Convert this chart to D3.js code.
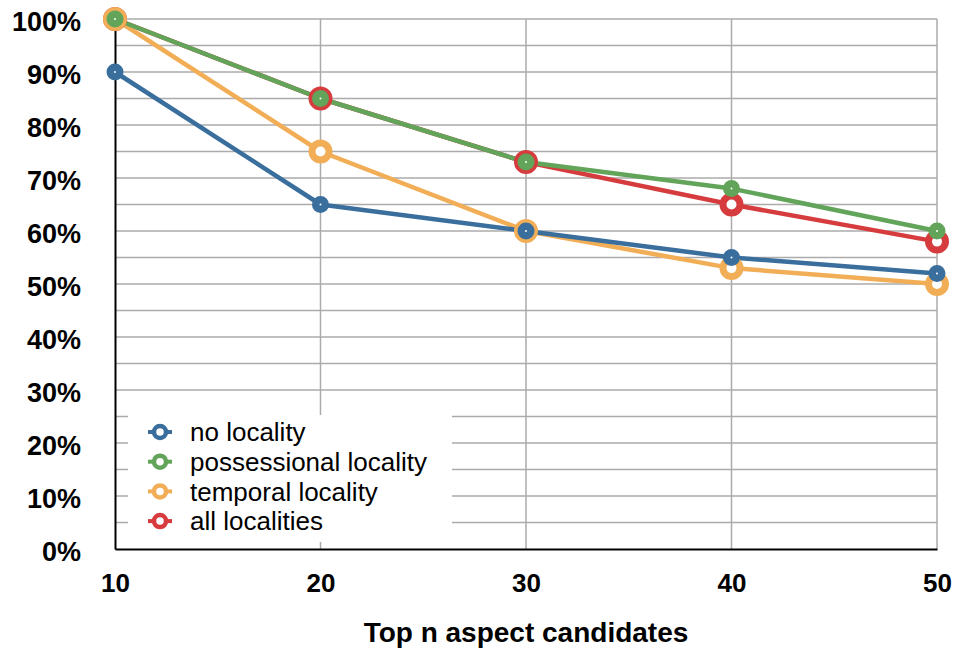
<!DOCTYPE html>
<html>
<head>
<meta charset="utf-8">
<script src="https://cdn.jsdelivr.net/npm/d3@7/dist/d3.min.js"></script>
<style>
  body { margin: 0; background: #fff; }
  svg { display: block; font-family: "Liberation Sans", Arial, Helvetica, sans-serif; }
</style>
</head>
<body>
<svg id="chart" width="957" height="650"></svg>
<script>
// Top-n candidates on the x axis
const topN = [10, 20, 30, 40, 50];

// Share of aspects recovered (%) per locality setting
const noLocality = [90, 65, 60, 55, 52];
const possessionalLocality = [100, 85, 73, 68, 60];
const temporalLocality = [100, 75, 60, 53, 50];
const allLocalities = [100, 85, 73, 65, 58];

const yTicks = [0, 10, 20, 30, 40, 50, 60, 70, 80, 90, 100];
const yMinorTicks = d3.range(0, 101, 5);

const xTitle = "Top n aspect candidates";

// Drawing order: rings underneath, filled markers on top
const series = [
  { name: "all localities", values: allLocalities, color: "#d63b3d", ring: true },
  { name: "temporal locality", values: temporalLocality, color: "#f2ae56", ring: true },
  { name: "no locality", values: noLocality, color: "#3a6e9d", ring: false },
  { name: "possessional locality", values: possessionalLocality, color: "#62a55a", ring: false }
];
const legendOrder = ["no locality", "possessional locality", "temporal locality", "all localities"];

const svg = d3.select("#chart");
const plotLeft = 115, plotRight = 937, plotTop = 19, plotBottom = 549;

const x = d3.scaleLinear().domain([10, 50]).range([plotLeft, plotRight]);
const y = d3.scaleLinear().domain([0, 100]).range([plotBottom, plotTop]);

// Grid
const grid = svg.append("g");
grid.selectAll("line.h").data(yMinorTicks.filter(d => d > 0)).join("line")
  .attr("x1", plotLeft).attr("x2", plotRight)
  .attr("y1", d => y(d)).attr("y2", d => y(d))
  .attr("stroke", "#ababab").attr("stroke-width", 1.5);
grid.selectAll("line.v").data(topN.filter(d => d > 10)).join("line")
  .attr("x1", d => x(d)).attr("x2", d => x(d))
  .attr("y1", plotTop).attr("y2", plotBottom)
  .attr("stroke", "#ababab").attr("stroke-width", 1.5);

// Legend background box hides the grid behind it
const legendBox = { x: 128, y: 415, w: 324, h: 127 };
svg.append("rect")
  .attr("x", legendBox.x).attr("y", legendBox.y)
  .attr("width", legendBox.w).attr("height", legendBox.h)
  .attr("fill", "#fff");

// Axes
const yAxis = d3.axisLeft(y).tickValues(yTicks).tickSize(0).tickPadding(34)
  .tickFormat(d => d + "%");
const gy = svg.append("g").attr("transform", `translate(${plotLeft},0)`).call(yAxis);
gy.select(".domain").attr("stroke", "#000").attr("stroke-width", 2);
gy.selectAll("text").attr("font-size", 27).attr("font-weight", "bold")
  .attr("fill", "#000").attr("dy", 11.5);

const xAxis = d3.axisBottom(x).tickValues(topN).tickSize(0)
  .tickFormat(d3.format("d"));
const gx = svg.append("g").attr("transform", `translate(0,${plotBottom})`).call(xAxis);
gx.select(".domain").attr("stroke", "#000").attr("stroke-width", 2);
gx.selectAll("text").attr("font-size", 26).attr("font-weight", "bold").attr("fill", "#000")
  .attr("y", 43).attr("dy", 0);

svg.append("text")
  .attr("x", 526).attr("y", 642)
  .attr("text-anchor", "middle")
  .attr("font-size", 28).attr("font-weight", "bold")
  .text(xTitle);

// Lines
const line = d3.line().x((d, i) => x(topN[i])).y(d => y(d));
const plot = svg.append("g");
series.forEach(s => {
  plot.append("path").datum(s.values)
    .attr("d", line).attr("fill", "none")
    .attr("stroke", s.color).attr("stroke-width", 4.5)
    .attr("stroke-linejoin", "round");
});

// Markers
series.forEach(s => {
  const g = plot.append("g");
  s.values.forEach((v, i) => {
    if (s.ring) {
      g.append("circle").attr("cx", x(topN[i])).attr("cy", y(v)).attr("r", 8.5)
        .attr("fill", "#fff").attr("stroke", s.color).attr("stroke-width", 7);
    } else {
      g.append("circle").attr("cx", x(topN[i])).attr("cy", y(v)).attr("r", 8.5)
        .attr("fill", s.color);
      g.append("circle").attr("cx", x(topN[i])).attr("cy", y(v)).attr("r", 1)
        .attr("fill", "#fff");
    }
  });
});

// Legend
const lg = svg.append("g");
legendOrder.forEach((name, i) => {
  const s = series.find(d => d.name === name);
  const cy = 432 + i * 29.7;
  lg.append("line").attr("x1", 148).attr("x2", 172).attr("y1", cy).attr("y2", cy)
    .attr("stroke", s.color).attr("stroke-width", 4);
  lg.append("circle").attr("cx", 160).attr("cy", cy).attr("r", 6)
    .attr("fill", "#fff").attr("stroke", s.color).attr("stroke-width", 4.5);
  lg.append("text").attr("x", 190).attr("y", cy).attr("dy", "0.35em")
    .attr("font-size", 26).attr("fill", "#000").text(name);
});
</script>
</body>
</html>
